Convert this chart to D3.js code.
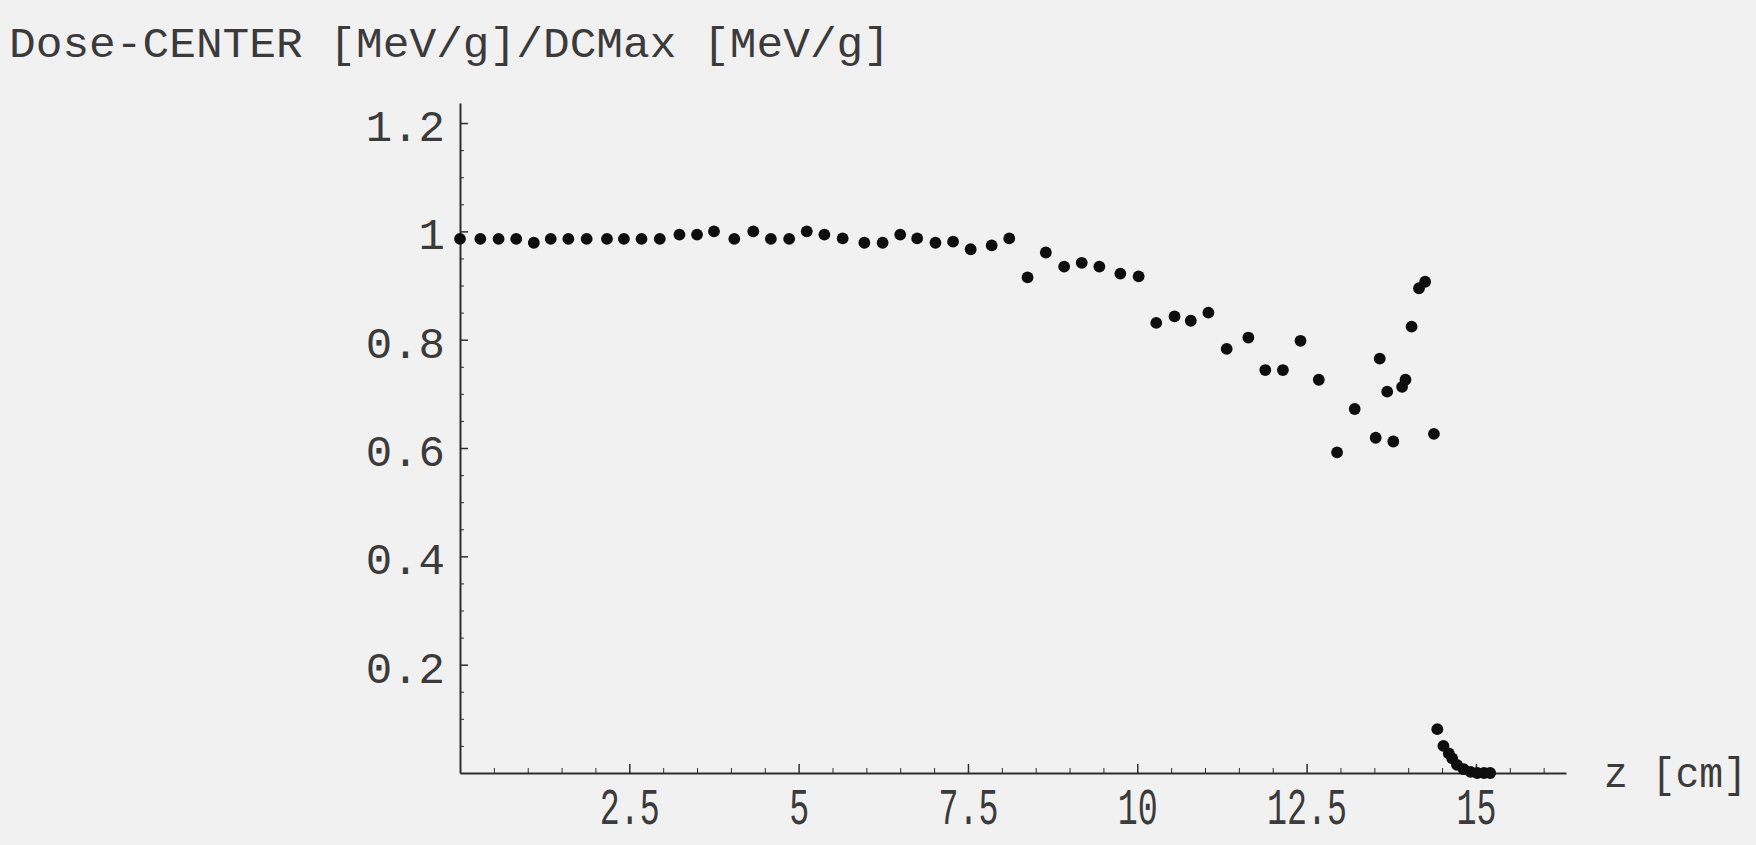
<!DOCTYPE html>
<meta charset="utf-8">
<style>
  body {
    margin: 0;
    background-color: #f2f1f2;
  }
  svg { display: block; }
  .lbl {
    font-family: "Liberation Mono", "Courier New", monospace;
    fill: #3b3b3b;
  }
  .axis path, .axis line {
    stroke: #2e2e2e;
  }
</style>

<body>
  <div id="chart"></div>
  <script src="https://d3js.org/d3.v7.min.js"></script>
  <script>

    // depth z [cm] and normalized central dose
    var zValues = [
      0.00, 0.30, 0.57, 0.83, 1.09, 1.34, 1.60, 1.87, 2.17, 2.42,
      2.68, 2.95, 3.24, 3.50, 3.75, 4.05, 4.33, 4.59, 4.86, 5.12,
      5.38, 5.65, 5.97, 6.24, 6.50, 6.75, 7.02, 7.28, 7.54, 7.85,
      8.11, 8.38, 8.65, 8.92, 9.18, 9.44, 9.75, 10.02, 10.28, 10.55,
      10.79, 11.05, 11.32, 11.64, 11.89, 12.15, 12.41, 12.68, 12.95, 13.21,
      13.52, 13.58, 13.69, 13.78, 13.91, 13.96, 14.05, 14.16, 14.25, 14.38,
      14.43, 14.52, 14.60, 14.65, 14.72, 14.82, 14.92, 15.02, 15.12, 15.21
    ];
    var doseValues = [
      0.986, 0.986, 0.986, 0.986, 0.979, 0.986, 0.986, 0.986, 0.986, 0.986,
      0.986, 0.986, 0.994, 0.994, 1.000, 0.986, 1.000, 0.986, 0.986, 1.000,
      0.994, 0.987, 0.979, 0.979, 0.994, 0.987, 0.979, 0.981, 0.967, 0.974,
      0.987, 0.915, 0.961, 0.935, 0.942, 0.935, 0.922, 0.917, 0.831, 0.843,
      0.835, 0.850, 0.783, 0.804, 0.744, 0.744, 0.798, 0.726, 0.592, 0.672,
      0.619, 0.765, 0.704, 0.612, 0.713, 0.726, 0.824, 0.895, 0.907, 0.626,
      0.081, 0.050, 0.036, 0.027, 0.015, 0.007, 0.002, 0.000, 0.000, 0.000
    ];

    var xTicks = [2.5, 5, 7.5, 10, 12.5, 15];
    var xTickLabels = ["2.5", "5", "7.5", "10", "12.5", "15"];
    var yTicks = [0.2, 0.4, 0.6, 0.8, 1, 1.2];
    var yTickLabels = ["0.2", "0.4", "0.6", "0.8", "1", "1.2"];

    var width = 1756, height = 845;

    var svg = d3.select("#chart")
      .append("svg")
      .attr("width", width)
      .attr("height", height);

    var x = d3.scaleLinear().domain([0, 16.33]).range([460, 1566]);
    var y = d3.scaleLinear().domain([0, 1.237]).range([773, 103]);

    // minor ticks every 0.5 on x, every 0.05 on y
    var xMinor = d3.range(0.5, 16.3, 0.5).filter(function (v) { return Math.abs(v / 2.5 - Math.round(v / 2.5)) > 1e-6; });
    var yMinor = d3.range(0.05, 1.236, 0.05).filter(function (v) { return Math.abs(v / 0.2 - Math.round(v / 0.2)) > 1e-6; });

    // x axis (ticks point up into the plot)
    var gx = svg.append("g")
      .attr("class", "axis")
      .attr("transform", "translate(0," + y(0) + ")");
    gx.call(d3.axisBottom(x).tickValues(xMinor).tickSizeInner(-5).tickSizeOuter(0).tickFormat(""));
    gx.selectAll("path").attr("stroke-width", 2);
    var gx2 = svg.append("g")
      .attr("class", "axis")
      .attr("transform", "translate(0," + y(0) + ")");
    gx2.call(d3.axisBottom(x).tickValues(xTicks).tickSizeInner(-9).tickSizeOuter(0).tickPadding(14)
      .tickFormat(function (d, i) { return xTickLabels[i]; }));
    gx2.select(".domain").remove();
    gx2.selectAll("line").attr("stroke-width", 1.5);
    gx2.selectAll("text")
      .attr("class", "lbl")
      .attr("fill", null)
      .style("font-size", "52px")
      .attr("textLength", function (d, i) { return xTickLabels[i].length * 20; })
      .attr("lengthAdjust", "spacingAndGlyphs");

    // y axis (ticks point right)
    var gy = svg.append("g")
      .attr("class", "axis")
      .attr("transform", "translate(" + x(0) + ",0)");
    gy.call(d3.axisLeft(y).tickValues(yMinor).tickSizeInner(-4).tickSizeOuter(0).tickFormat(""));
    gy.selectAll("path").attr("stroke-width", 2);
    var gy2 = svg.append("g")
      .attr("class", "axis")
      .attr("transform", "translate(" + x(0) + ",0)");
    gy2.call(d3.axisLeft(y).tickValues(yTicks).tickSizeInner(-8).tickSizeOuter(0).tickPadding(15)
      .tickFormat(function (d, i) { return yTickLabels[i]; }));
    gy2.select(".domain").remove();
    gy2.selectAll("line").attr("stroke-width", 1.5);
    gy2.selectAll("text")
      .attr("class", "lbl")
      .attr("fill", null)
      .style("font-size", "44px")
      .attr("dy", "0.4em");

    // data points
    svg.append("g")
      .selectAll("circle")
      .data(zValues)
      .enter().append("circle")
      .attr("cx", function (d) { return x(d); })
      .attr("cy", function (d, i) { return y(doseValues[i]); })
      .attr("r", 5.9)
      .attr("fill", "#0e0e0e");

    // axis titles
    svg.append("text")
      .attr("class", "lbl")
      .attr("x", 9)
      .attr("y", 57)
      .style("font-size", "43px")
      .attr("textLength", 881)
      .attr("lengthAdjust", "spacingAndGlyphs")
      .text("Dose-CENTER [MeV/g]/DCMax [MeV/g]");

    svg.append("text")
      .attr("class", "lbl")
      .attr("x", 1604)
      .attr("y", 787)
      .style("font-size", "42px")
      .attr("textLength", 143)
      .attr("lengthAdjust", "spacingAndGlyphs")
      .text("z [cm]");

  </script>
</body>
